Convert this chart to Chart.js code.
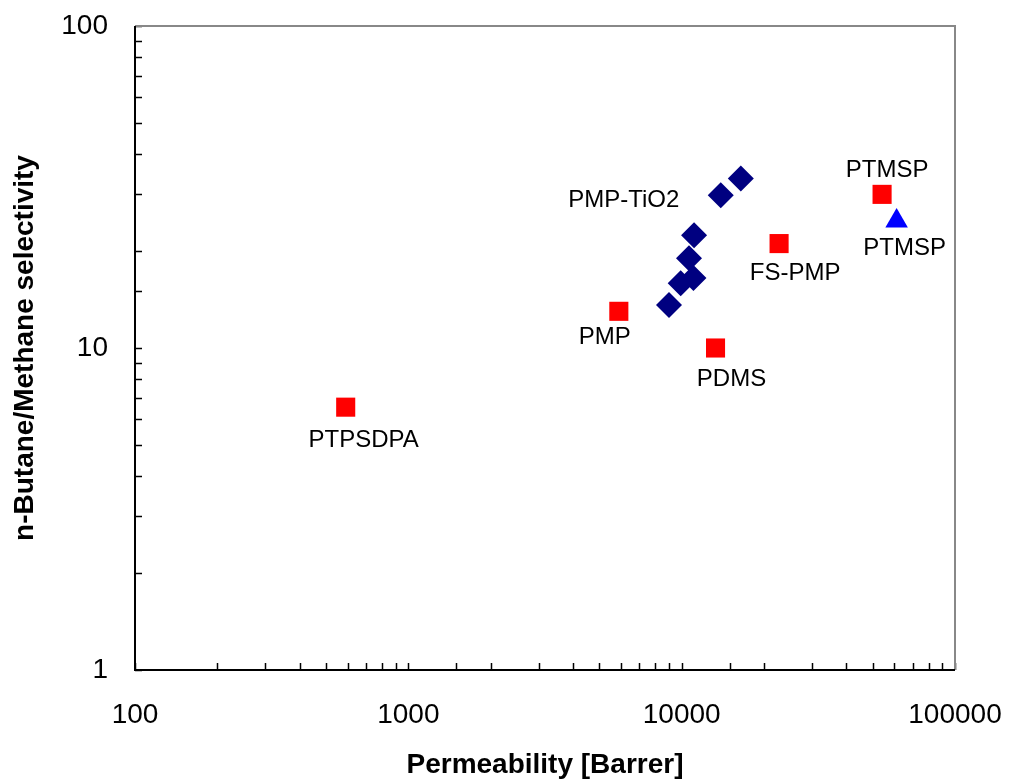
<!DOCTYPE html>
<html>
<head>
<meta charset="utf-8">
<script src="https://cdn.jsdelivr.net/npm/chart.js@4.4.0/dist/chart.umd.min.js"></script>
<style>
  html, body { margin: 0; padding: 0; background: #fff; }
  canvas { display: block; }
</style>
</head>
<body>
<canvas id="chart" width="1012" height="782"></canvas>
<script>
// PMP-TiO2 nanocomposites (diamonds)
const tio2Perm = [16460, 13900, 11100, 10640, 11040, 9920, 8990];
const tio2Sel = [33.6, 29.8, 22.4, 19.0, 16.5, 15.9, 13.6];
const tio2Name = "PMP-TiO2";

// other polymers (red squares)
const polyNames = ["PTPSDPA", "PMP", "PDMS", "FS-PMP", "PTMSP"];
const polyPerm = [590, 5890, 13300, 22720, 54100];
const polySel = [6.55, 13.0, 10.0, 21.1, 30.0];

// blue triangle
const triNames = ["PTMSP"];
const triPerm = [61150];
const triSel = [24.8];

const xTicks = [100, 1000, 10000, 100000];
const yTicks = [1, 10, 100];

// label placement relative to the marker, px
const polyOffsets = [[18, 33], [-14, 26], [16, 31], [16, 30], [5, -24]];
const triOffsets = [[8, 27]];
const tio2Offsets = [null, [-97, 5], null, null, null, null, null];

const FONT = "'Liberation Sans', Arial, sans-serif";

function pts(xs, ys) {
  return xs.map((x, i) => ({ x: x, y: ys[i] }));
}

function isMajor(list, v) {
  return list.some(t => Math.abs(t - v) / t < 1e-6);
}

const pointLabels = {
  id: "pointLabels",
  afterDatasetsDraw(chart) {
    const ctx = chart.ctx;
    ctx.save();
    ctx.font = "24px " + FONT;
    ctx.fillStyle = "#000";
    ctx.textAlign = "center";
    ctx.textBaseline = "middle";
    chart.data.datasets.forEach((ds, di) => {
      const meta = chart.getDatasetMeta(di);
      meta.data.forEach((el, i) => {
        const off = ds.labelOffsets[i];
        if (!off) return;
        const text = ds.names ? ds.names[i] : ds.label;
        ctx.fillText(text, el.x + off[0], el.y + off[1]);
      });
    });
    ctx.restore();
  }
};

// inward ticks + frame (left/bottom black, top/right grey)
const frame = {
  id: "frame",
  afterDraw(chart) {
    const { ctx, chartArea: a, scales } = chart;
    ctx.save();
    ctx.lineWidth = 1.5;
    ctx.strokeStyle = "#000";
    ctx.beginPath();
    scales.x.ticks.forEach(t => {
      const px = Math.round(scales.x.getPixelForValue(t.value)) + 0.5;
      ctx.moveTo(px, a.bottom);
      ctx.lineTo(px, a.bottom - 7);
    });
    scales.y.ticks.forEach(t => {
      const py = Math.round(scales.y.getPixelForValue(t.value)) + 0.5;
      ctx.moveTo(a.left, py);
      ctx.lineTo(a.left + 7, py);
    });
    ctx.stroke();

    ctx.lineWidth = 2;
    ctx.strokeStyle = "#888";
    ctx.beginPath();
    ctx.moveTo(a.left, a.top);
    ctx.lineTo(a.right, a.top);
    ctx.lineTo(a.right, a.bottom);
    ctx.stroke();

    ctx.strokeStyle = "#000";
    ctx.beginPath();
    ctx.moveTo(a.left, a.top);
    ctx.lineTo(a.left, a.bottom);
    ctx.lineTo(a.right, a.bottom);
    ctx.stroke();
    ctx.restore();
  }
};

new Chart(document.getElementById("chart"), {
  type: "scatter",
  data: {
    datasets: [
      {
        label: tio2Name,
        data: pts(tio2Perm, tio2Sel),
        labelOffsets: tio2Offsets,
        pointStyle: "rectRot",
        pointRadius: 13,
        backgroundColor: "#000080",
        borderWidth: 0
      },
      {
        label: "polymers",
        names: polyNames,
        data: pts(polyPerm, polySel),
        labelOffsets: polyOffsets,
        pointStyle: "rect",
        pointRadius: 13.5,
        backgroundColor: "#ff0000",
        borderWidth: 0
      },
      {
        label: "PTMSP",
        names: triNames,
        data: pts(triPerm, triSel),
        labelOffsets: triOffsets,
        pointStyle: "triangle",
        pointRadius: 13,
        backgroundColor: "#0000ff",
        borderWidth: 0
      }
    ]
  },
  options: {
    responsive: false,
    devicePixelRatio: 1,
    animation: false,
    events: [],
    layout: { padding: { top: 26, right: 57, left: 0, bottom: 0 } },
    plugins: {
      legend: { display: false },
      tooltip: { enabled: false }
    },
    scales: {
      x: {
        type: "logarithmic",
        position: "bottom",
        min: 100,
        max: 100000,
        // grid hidden; tickLength only used as the gap before the labels
        grid: { display: false, drawTicks: true, tickLength: 28 },
        border: { display: false },
        afterFit(s) { s.height = 112; },
        ticks: {
          autoSkip: false,
          maxRotation: 0,
          padding: 0,
          color: "#000",
          font: { family: FONT, size: 28 },
          callback: v => isMajor(xTicks, v) ? String(Math.round(v)) : ""
        },
        title: {
          display: true,
          text: "Permeability [Barrer]",
          color: "#000",
          font: { family: FONT, size: 28, weight: "bold" },
          padding: { top: 0, bottom: 0 }
        }
      },
      y: {
        type: "logarithmic",
        position: "left",
        min: 1,
        max: 100,
        grid: { display: false, drawTicks: true, tickLength: 27 },
        border: { display: false },
        afterFit(s) { s.width = 135; },
        ticks: {
          autoSkip: false,
          padding: 0,
          color: "#000",
          font: { family: FONT, size: 28 },
          callback: v => isMajor(yTicks, v) ? String(Math.round(v)) : ""
        },
        title: {
          display: true,
          text: "n-Butane/Methane selectivity",
          color: "#000",
          font: { family: FONT, size: 28, weight: "bold" },
          padding: { top: 8, bottom: 0 }
        }
      }
    }
  },
  plugins: [pointLabels, frame]
});
</script>
</body>
</html>
